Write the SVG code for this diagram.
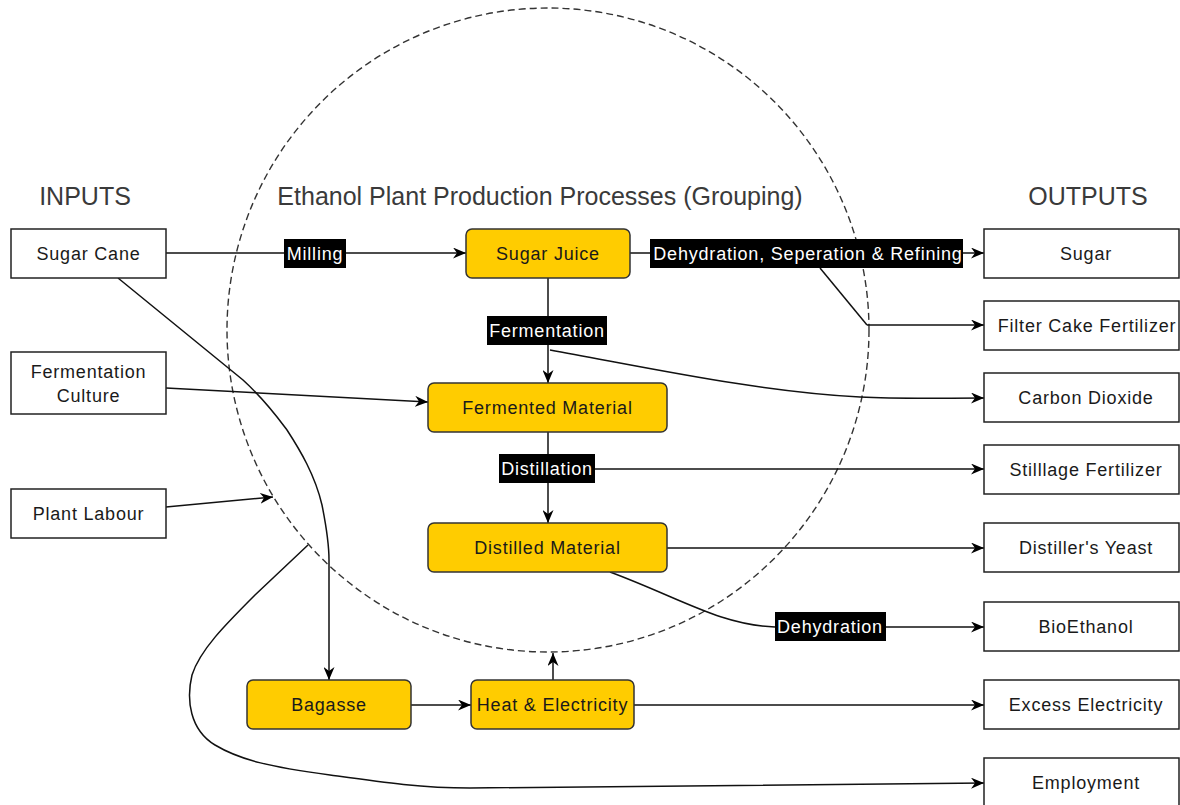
<svg xmlns="http://www.w3.org/2000/svg" width="1180" height="805" viewBox="0 0 1180 805">
<defs>
<marker id="arr" viewBox="0 0 13 11" refX="13" refY="5.5" markerWidth="13" markerHeight="11" markerUnits="userSpaceOnUse" orient="auto">
<path d="M0,0 L13,5.5 L0,11 L4,5.5 z" fill="#000"/>
</marker>
<style>
.heading{font-family:"Liberation Sans",Arial,sans-serif;font-size:25px;fill:#3a3a3a;text-anchor:middle}
.box{fill:#fff;stroke:#222;stroke-width:1.5}
.proc{fill:#ffcc00;stroke:#333;stroke-width:1.5}
.t{font-family:"Liberation Sans",Arial,sans-serif;font-size:18px;letter-spacing:0.8px;fill:#1a1a1a;text-anchor:middle}
.e{fill:none;stroke:#111;stroke-width:1.5}
.ea{fill:none;stroke:#111;stroke-width:1.5;marker-end:url(#arr)}
.lb{fill:#000}
.lt{font-family:"Liberation Sans",Arial,sans-serif;font-size:18px;letter-spacing:0.8px;fill:#fff;text-anchor:middle}
.grp{fill:none;stroke:#333;stroke-width:1.4;stroke-dasharray:7 4}
</style>
</defs>
<rect width="1180" height="805" fill="#fff"/>

<g id="grouping">
<ellipse class="grp" cx="548" cy="330" rx="321" ry="322"/>
</g>

<text class="heading" x="85" y="205">INPUTS</text>
<text class="heading" x="540" y="205">Ethanol Plant Production Processes (Grouping)</text>
<text class="heading" x="1088" y="205">OUTPUTS</text>

<g id="connectors">
<path class="ea" d="M166,253 L466,253"/>
<path class="ea" d="M630,253 L984,253"/>
<path class="e" d="M820,268 L867,325"/>
<path class="ea" d="M867,325 L984,325"/>
<path class="ea" d="M548,278 L548,383"/>
<path class="ea" d="M550,350 C650,368 760,392 860,397 C900,399 940,398 984,398"/>
<path class="ea" d="M166,388 L428,402"/>
<path class="ea" d="M548,432 L548,523"/>
<path class="ea" d="M595,469 L984,469"/>
<path class="ea" d="M667,548 L984,548"/>
<path class="e" d="M610,572 C680,598 720,625 775,627"/>
<path class="ea" d="M886,627 L984,627"/>
<path class="ea" d="M166,507 L273,497"/>
<path class="ea" d="M118,278 L243,380 C265,400 278,418 287,430 C300,450 315,475 322,505 C327,530 329,545 329,560 L329,680"/>
<path class="ea" d="M308,545 L255,595 C225,625 200,650 192,675 C186,700 190,730 215,745 C240,760 270,767 330,775 C380,782 420,788 470,788 L984,783"/>
<path class="ea" d="M411,705 L471,705"/>
<path class="ea" d="M634,705 L984,705"/>
<path class="ea" d="M553,680 L553,653"/>
</g>

<g id="edge-labels">
<rect class="lb" x="284" y="239" width="62" height="29"/>
<text class="lt" x="315" y="260">Milling</text>
<rect class="lb" x="650" y="239" width="313" height="29"/>
<text class="lt" x="808" y="260">Dehydration, Seperation &amp; Refining</text>
<rect class="lb" x="487" y="316" width="120" height="29"/>
<text class="lt" x="547" y="337">Fermentation</text>
<rect class="lb" x="499" y="454" width="96" height="29"/>
<text class="lt" x="547" y="475">Distillation</text>
<rect class="lb" x="775" y="612" width="111" height="29"/>
<text class="lt" x="830" y="633">Dehydration</text>
</g>

<g id="n-sugar-cane"><rect class="box" x="11" y="229" width="155" height="49"/><text class="t" x="88.5" y="260">Sugar Cane</text></g>
<g id="n-fermentation-culture"><rect class="box" x="11" y="352" width="155" height="62"/><text class="t" x="88.5" y="378">Fermentation</text><text class="t" x="88.5" y="402">Culture</text></g>
<g id="n-plant-labour"><rect class="box" x="11" y="489" width="155" height="49"/><text class="t" x="88.5" y="520">Plant Labour</text></g>

<g id="n-sugar-juice"><rect class="proc" x="466" y="229" width="164" height="49" rx="6"/><text class="t" x="548" y="260">Sugar Juice</text></g>
<g id="n-fermented-material"><rect class="proc" x="428" y="383" width="239" height="49" rx="6"/><text class="t" x="547.5" y="414">Fermented Material</text></g>
<g id="n-distilled-material"><rect class="proc" x="428" y="523" width="239" height="49" rx="6"/><text class="t" x="547.5" y="554">Distilled Material</text></g>
<g id="n-bagasse"><rect class="proc" x="247" y="680" width="164" height="49" rx="6"/><text class="t" x="329" y="711">Bagasse</text></g>
<g id="n-heat-electricity"><rect class="proc" x="471" y="680" width="163" height="49" rx="6"/><text class="t" x="552.5" y="711">Heat &amp; Electricity</text></g>

<g id="n-sugar"><rect class="box" x="984" y="229" width="195" height="49"/><text class="t" x="1086" y="260">Sugar</text></g>
<g id="n-filter-cake"><rect class="box" x="984" y="301" width="195" height="49"/><text class="t" x="1087" y="332">Filter Cake Fertilizer</text></g>
<g id="n-carbon-dioxide"><rect class="box" x="984" y="373" width="195" height="49"/><text class="t" x="1086" y="404">Carbon Dioxide</text></g>
<g id="n-stillage"><rect class="box" x="984" y="445" width="195" height="49"/><text class="t" x="1086" y="476">Stilllage Fertilizer</text></g>
<g id="n-distillers-yeast"><rect class="box" x="984" y="523" width="195" height="49"/><text class="t" x="1086" y="554">Distiller's Yeast</text></g>
<g id="n-bioethanol"><rect class="box" x="984" y="602" width="195" height="49"/><text class="t" x="1086" y="633">BioEthanol</text></g>
<g id="n-excess-electricity"><rect class="box" x="984" y="680" width="195" height="49"/><text class="t" x="1086" y="711">Excess Electricity</text></g>
<g id="n-employment"><rect class="box" x="984" y="758" width="195" height="49"/><text class="t" x="1086" y="789">Employment</text></g>
</svg>
